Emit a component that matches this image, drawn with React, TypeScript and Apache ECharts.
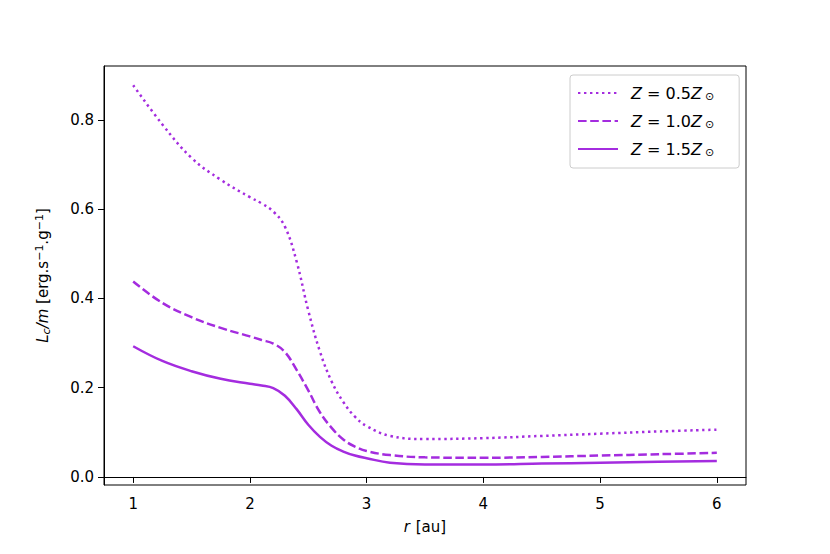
import React, { useEffect, useRef } from "react";
import * as echarts from "echarts";

const rValues = [1.0, 1.25, 1.5, 1.75, 2.0, 2.1, 2.2, 2.3, 2.4, 2.5, 2.6, 2.7, 2.8, 2.9, 3.0, 3.2, 3.5, 4.0, 4.5, 5.0, 5.5, 6.0];
const z05 = [0.878, 0.79, 0.715, 0.666, 0.627, 0.613, 0.595, 0.561, 0.483, 0.373, 0.281, 0.214, 0.168, 0.135, 0.114, 0.092, 0.085, 0.087, 0.092, 0.097, 0.102, 0.106];
const z10 = [0.438, 0.39, 0.358, 0.334, 0.315, 0.307, 0.299, 0.28, 0.24, 0.194, 0.145, 0.11, 0.084, 0.068, 0.058, 0.049, 0.044, 0.043, 0.045, 0.048, 0.051, 0.054];
const z15 = [0.293, 0.26, 0.237, 0.22, 0.209, 0.205, 0.199, 0.182, 0.152, 0.117, 0.09, 0.07, 0.057, 0.048, 0.042, 0.032, 0.028, 0.028, 0.03, 0.032, 0.034, 0.036];
const seriesNames = ["Z = 0.5Z⊙", "Z = 1.0Z⊙", "Z = 1.5Z⊙"];
const legendLabels = ["{i|Z} = 0.5{i|Z}{s|⊙}", "{i|Z} = 1.0{i|Z}{s|⊙}", "{i|Z} = 1.5{i|Z}{s|⊙}"];
const xTicks = [1, 2, 3, 4, 5, 6];
const yTicks = [0.0, 0.2, 0.4, 0.6, 0.8];

const COLOR = "#a42cdf";
const FONT = "DejaVu Sans";

export default function App() {
  const ref = useRef<HTMLDivElement>(null);
  useEffect(() => {
    if (!ref.current) return;
    const chart = echarts.init(ref.current, null, { renderer: "svg" });
    const mk = (vals: number[]) => rValues.map((r, i) => [r, vals[i]]);
    const lineTypes: any[] = [[2.4, 3.6], [8.6, 3.6], "solid"];
    const datasets = [z05, z10, z15];
    chart.setOption({
      animation: false,
      backgroundColor: "#fff",
      textStyle: { fontFamily: FONT },
      grid: {
        left: 104,
        top: 66,
        right: 84,
        bottom: 69,
        show: true,
        borderColor: "#000",
        borderWidth: 1,
        backgroundColor: "transparent",
        outerBoundsMode: "none",
      },
      legend: {
        data: seriesNames,
        orient: "vertical",
        left: 570,
        top: 75,
        padding: [10, 25, 10, 7],
        itemWidth: 40,
        itemHeight: 14,
        itemGap: 11,
        borderColor: "#cccccc",
        borderWidth: 1,
        borderRadius: 3,
        backgroundColor: "rgba(255,255,255,0.8)",
        itemStyle: { opacity: 0 },
        formatter: (name: string) => legendLabels[seriesNames.indexOf(name)],
        textStyle: {
          fontFamily: FONT,
          fontSize: 16,
          color: "#000",
          padding: [0, 0, 0, 8],
          rich: {
            i: { fontFamily: FONT, fontStyle: "italic", fontSize: 16, color: "#000" },
            s: { fontFamily: FONT, fontSize: 11, color: "#000", padding: [7, 0, 0, 3] },
          },
        },
      },
      xAxis: {
        type: "value",
        min: 0.75,
        max: 6.25,
        name: "{i|r} [au]",
        nameLocation: "middle",
        nameGap: 34,
        nameTextStyle: {
          fontFamily: FONT,
          fontSize: 15,
          color: "#000",
          rich: { i: { fontFamily: FONT, fontStyle: "italic", fontSize: 15, color: "#000", padding: [0, 1, 0, 0] } },
        },
        axisLine: { show: true, lineStyle: { color: "#000", width: 1 } },
        axisTick: { show: true, length: 6, inside: false, customValues: xTicks, lineStyle: { color: "#000", width: 1 } },
        axisLabel: { customValues: xTicks, fontFamily: FONT, fontSize: 15, color: "#000", margin: 11, formatter: (v: number) => String(v) },
        splitLine: { show: false },
      },
      yAxis: {
        type: "value",
        min: -0.018,
        max: 0.921,
        name: "{i|L}{sub|c}{i|/m} [erg.s{sup|−1}.g{sup|−1}]",
        nameLocation: "middle",
        nameGap: 52,
        nameRotate: 90,
        nameTextStyle: {
          fontFamily: FONT,
          fontSize: 15,
          color: "#000",
          rich: {
            i: { fontFamily: FONT, fontStyle: "italic", fontSize: 15, color: "#000" },
            sub: { fontFamily: FONT, fontStyle: "italic", fontSize: 11, color: "#000", padding: [6, 0, 0, 0] },
            sup: { fontFamily: FONT, fontSize: 11, color: "#000", padding: [0, 0, 7, 0] },
          },
        },
        axisLine: { show: true, lineStyle: { color: "#000", width: 1 } },
        axisTick: { show: true, length: 6, inside: false, customValues: yTicks, lineStyle: { color: "#000", width: 1 } },
        axisLabel: { customValues: yTicks, fontFamily: FONT, fontSize: 15, color: "#000", margin: 10, formatter: (v: number) => v.toFixed(1) },
        splitLine: { show: false },
      },
      series: datasets.map((d, i) => ({
        name: seriesNames[i],
        type: "line",
        data: mk(d),
        smooth: 0.4,
        symbol: "none",
        showSymbol: false,
        lineStyle: { color: COLOR, width: 2.5, type: lineTypes[i], cap: "butt" },
        itemStyle: { color: COLOR },
      })),
    });
    return () => chart.dispose();
  }, []);
  return <div ref={ref} style={{ position: "absolute", left: 0, top: 0, width: 830, height: 554 }} />;
}
